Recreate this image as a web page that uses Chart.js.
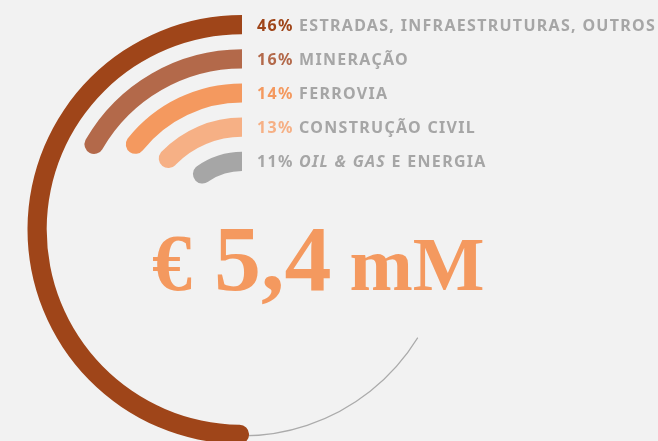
<!DOCTYPE html>
<html lang="pt">
<head>
<meta charset="utf-8">
<title>Carteira por setor</title>
<script src="https://cdn.jsdelivr.net/npm/chart.js@4/dist/chart.umd.min.js"></script>
<style>
  html, body { margin: 0; padding: 0; background: #f2f2f2; }
  #wrap { position: relative; width: 658px; height: 441px; }
  #wrap canvas { position: absolute; left: 0; top: 0; }
</style>
</head>
<body>
<div id="wrap">
  <canvas id="trilho" width="658" height="441"></canvas>
  <canvas id="setores" width="658" height="441"></canvas>
</div>
<script>
// Quota de cada setor na carteira (%)
const setores = ['ESTRADAS, INFRAESTRUTURAS, OUTROS', 'MINERAÇÃO', 'FERROVIA', 'CONSTRUÇÃO CIVIL', '*OIL & GAS* E ENERGIA'];
const quotas = [46, 16, 14, 13, 11];
const cores = ['#9f4519', '#b3694a', '#f4995f', '#f6b085', '#a6a6a6'];

// Valor total
const moeda = '€';
const valorTotal = '5,4';
const unidade = 'mM';

// quota que corresponde a uma volta completa do anel
const voltaCompleta = 91;

const cinzaTexto = '#a6a6a6';
const padding = { top: 18, right: 174, bottom: 0, left: 0 };

// um anel por setor, separados por aneis vazios
const datasets = [];
quotas.forEach((q, i) => {
  if (i > 0) {
    datasets.push({ data: [1], backgroundColor: 'transparent', weight: 15 });
  }
  datasets.push({
    data: [q, voltaCompleta - q],
    backgroundColor: [cores[i], 'transparent'],
    rotation: -360 * q / voltaCompleta,
    weight: 19.2,
    borderRadius: (c) => c.dataIndex === 0
      ? { outerStart: 9.6, innerStart: 9.6, outerEnd: 0, innerEnd: 0 }
      : 0
  });
});

// legendas ao lado do topo de cada anel + total ao centro
const textos = {
  id: 'textos',
  afterDraw(chart) {
    const ctx = chart.ctx;
    ctx.save();
    ctx.textBaseline = 'alphabetic';
    ctx.textAlign = 'left';

    quotas.forEach((q, i) => {
      const arc = chart.getDatasetMeta(i * 2).data[0];
      const y = arc.y - (arc.outerRadius + arc.innerRadius) / 2 + 6;
      let x = arc.x + 15;
      ctx.letterSpacing = '1.3px';

      ctx.font = 'bold 16px "Noto Sans"';
      ctx.fillStyle = cores[i];
      const pct = q + '%';
      ctx.fillText(pct, x, y);
      x += ctx.measureText(pct + ' ').width;

      ctx.fillStyle = cinzaTexto;
      setores[i].split('*').forEach((parte, k) => {
        if (!parte) return;
        ctx.font = (k % 2 ? 'italic ' : '') + 'bold 16px "Noto Sans"';
        ctx.fillText(parte, x, y);
        x += ctx.measureText(parte).width;
      });
    });

    // € 5,4 mM
    ctx.letterSpacing = '0px';
    ctx.fillStyle = cores[2];
    const base = 290;
    let x = 152;
    ctx.font = 'bold 80px "Liberation Serif"';
    ctx.fillText(moeda, x, base);
    x += ctx.measureText(moeda).width + 22;
    ctx.font = 'bold 94px "Liberation Serif"';
    ctx.fillText(valorTotal, x, base);
    x += ctx.measureText(valorTotal).width + 18;
    ctx.font = 'bold 76px "Liberation Serif"';
    ctx.fillText(unidade, x, base);
    ctx.restore();
  }
};

const comuns = {
  responsive: false,
  devicePixelRatio: 1,
  animation: false,
  events: [],
  layout: { padding: padding },
  plugins: { legend: { display: false }, tooltip: { enabled: false } },
  elements: { arc: { borderWidth: 0 } }
};

// linha fina de guia que continua o anel exterior (por baixo dele)
new Chart(document.getElementById('trilho'), {
  type: 'doughnut',
  data: {
    datasets: [{
      data: [80, 280],
      backgroundColor: ['#ababab', 'transparent'],
      rotation: 121.6
    }]
  },
  options: Object.assign({}, comuns, { radius: 207, cutout: '99.42%' })
});

new Chart(document.getElementById('setores'), {
  type: 'doughnut',
  data: { datasets: datasets },
  options: Object.assign({}, comuns, {
    radius: 214.5,
    cutout: (58.5 / 214.5 * 100) + '%'
  }),
  plugins: [textos]
});
</script>
</body>
</html>
